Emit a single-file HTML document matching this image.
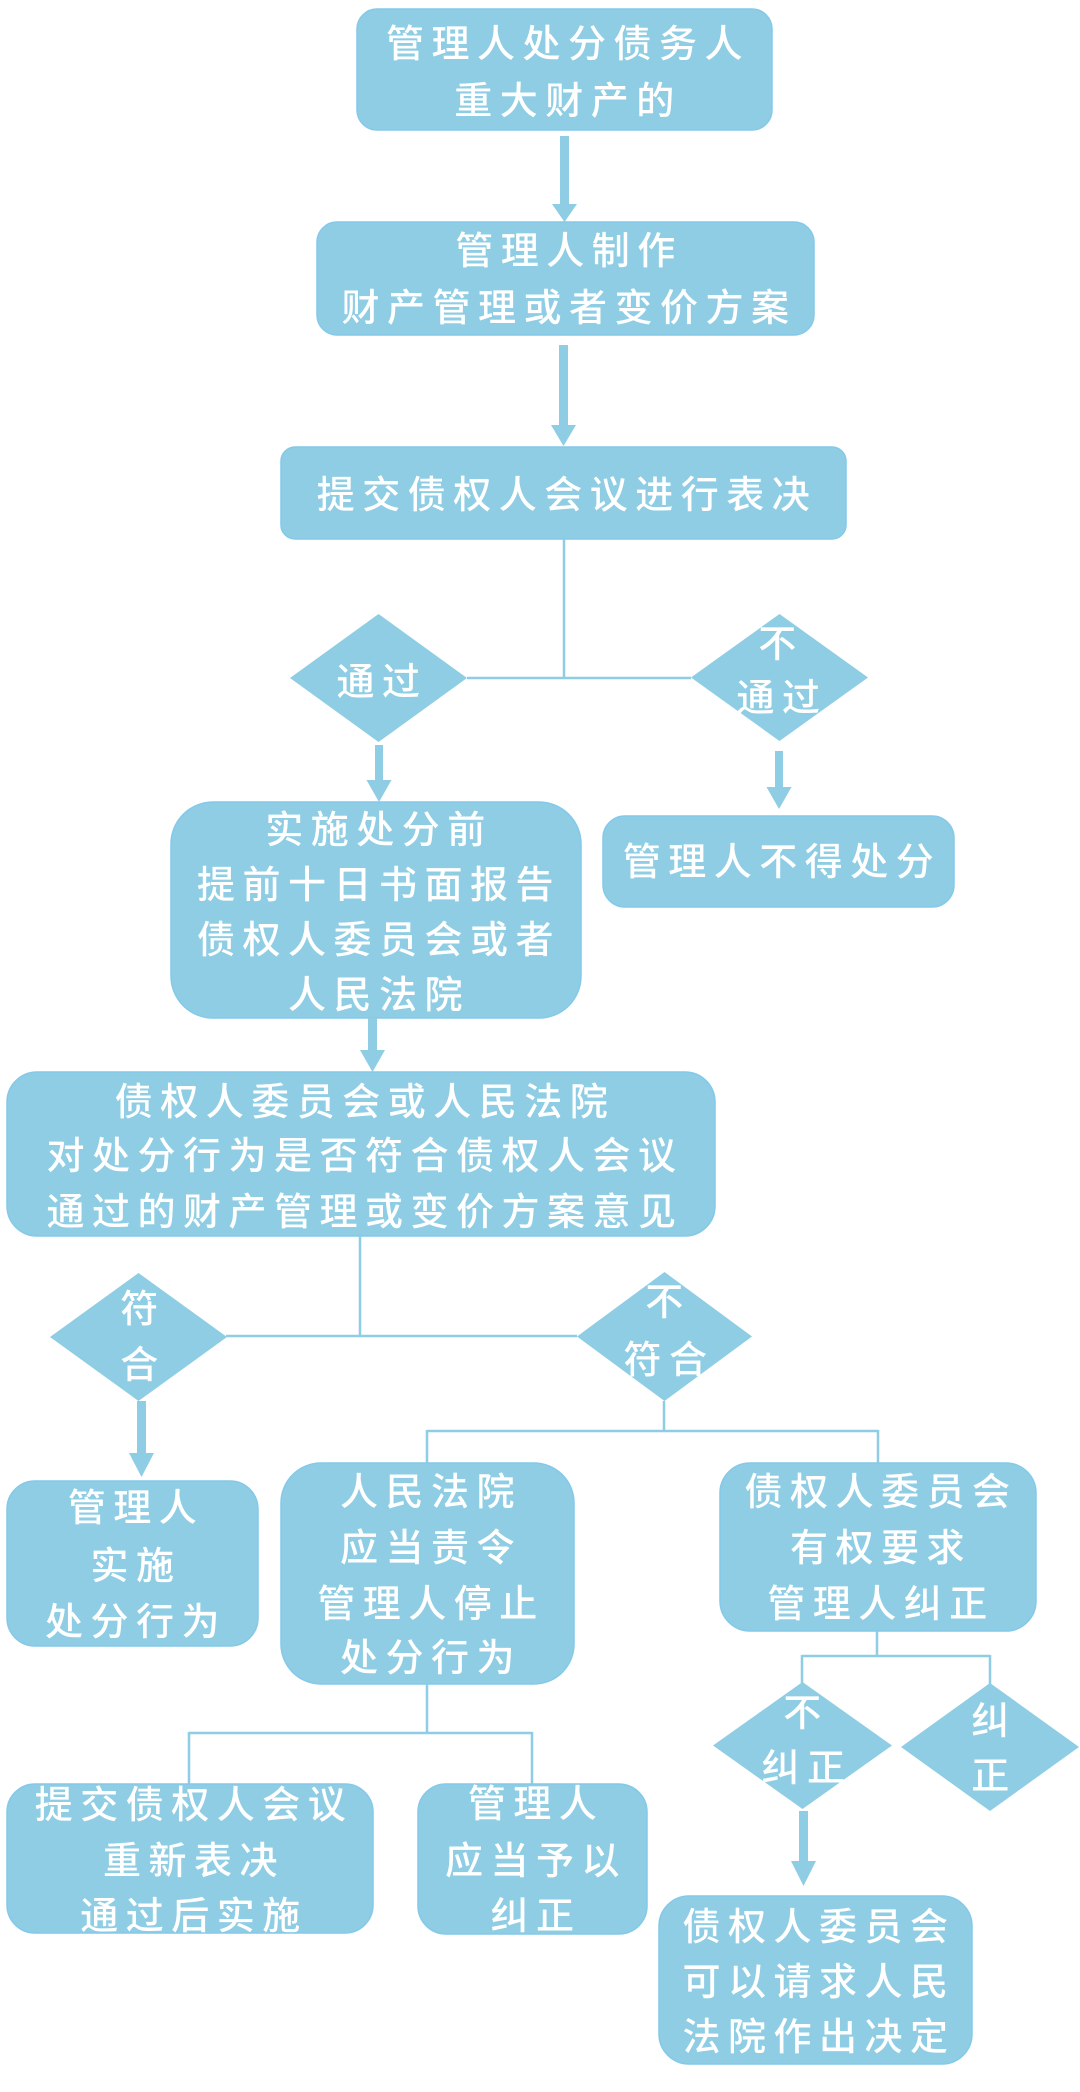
<!DOCTYPE html>
<html>
<head>
<meta charset="utf-8">
<style>
html,body{margin:0;padding:0;background:#fff;}
svg{display:block;}
.b{fill:#8ECDE3;stroke:#84C9EA;stroke-width:1.5;}
.d{fill:#8ECDE3;}
.l{stroke:#8ECDE3;stroke-width:2.5;fill:none;}
.a{fill:#8ECDE3;}
.t{font-family:"Liberation Sans","Noto Sans CJK SC",sans-serif;font-size:38px;font-weight:500;fill:#ffffff;letter-spacing:7.5px;text-anchor:middle;dominant-baseline:central;}
</style>
</head>
<body>
<svg width="1080" height="2092" viewBox="0 0 1080 2092" xmlns="http://www.w3.org/2000/svg">
  <!-- Box A -->
  <rect class="b" x="357" y="9" width="415" height="121" rx="20"/>
  <text class="t" x="568" y="45">管理人处分债务人</text>
  <text class="t" x="568" y="102">重大财产的</text>

  <!-- Arrow A->B -->
  <rect class="a" x="560" y="136" width="9" height="70"/>
  <polygon class="a" points="552,204 577,204 564.5,222"/>

  <!-- Box B -->
  <rect class="b" x="317" y="222" width="497" height="113" rx="20"/>
  <text class="t" x="569" y="252">管理人制作</text>
  <text class="t" x="569" y="309">财产管理或者变价方案</text>

  <!-- Arrow B->C -->
  <rect class="a" x="559" y="345" width="9" height="82"/>
  <polygon class="a" points="551,425 576,425 563.5,446"/>

  <!-- Box C -->
  <rect class="b" x="281" y="447" width="565" height="92" rx="14"/>
  <text class="t" x="567" y="496">提交债权人会议进行表决</text>

  <!-- Connector C -> diamonds -->
  <path class="l" d="M564 539 V678 M467 678 H691"/>

  <!-- Diamond D1 通过 -->
  <polygon class="d" points="290,678 378.5,614 467,678 378.5,742"/>
  <text class="t" x="382" y="683">通过</text>

  <!-- Diamond D2 不通过 -->
  <polygon class="d" points="691,677.5 779.5,614 868,677.5 779.5,741"/>
  <text class="t" x="781" y="645">不</text>
  <text class="t" x="782" y="699">通过</text>

  <!-- Arrow D1->E -->
  <rect class="a" x="375" y="745" width="8" height="37"/>
  <polygon class="a" points="366.5,780 391.5,780 379,802"/>

  <!-- Arrow D2->F -->
  <rect class="a" x="775" y="751" width="8" height="38"/>
  <polygon class="a" points="766.5,787 791.5,787 779,809"/>

  <!-- Box E -->
  <rect class="b" x="171" y="802" width="410" height="216" rx="42"/>
  <text class="t" x="379" y="831">实施处分前</text>
  <text class="t" x="379" y="886">提前十日书面报告</text>
  <text class="t" x="379" y="941">债权人委员会或者</text>
  <text class="t" x="379" y="996">人民法院</text>

  <!-- Box F -->
  <rect class="b" x="603" y="816" width="351" height="91" rx="22"/>
  <text class="t" x="782" y="863">管理人不得处分</text>

  <!-- Arrow E->G -->
  <rect class="a" x="368" y="1018" width="9" height="34"/>
  <polygon class="a" points="360,1050 385,1050 372.5,1072"/>

  <!-- Box G -->
  <rect class="b" x="7" y="1072" width="708" height="164" rx="30"/>
  <text class="t" x="365" y="1103">债权人委员会或人民法院</text>
  <text class="t" x="365" y="1157">对处分行为是否符合债权人会议</text>
  <text class="t" x="365" y="1213">通过的财产管理或变价方案意见</text>

  <!-- Connector G -> diamonds -->
  <path class="l" d="M360 1236 V1336 M226 1336 H577"/>

  <!-- Diamond H1 符合 -->
  <polygon class="d" points="50,1337 138.5,1273 227,1337 138.5,1401"/>
  <text class="t" x="143" y="1310">符</text>
  <text class="t" x="143" y="1366">合</text>

  <!-- Diamond H2 不符合 -->
  <polygon class="d" points="577,1336.5 664.5,1272 752,1336.5 664.5,1401"/>
  <text class="t" x="668" y="1303">不</text>
  <text class="t" x="669" y="1361">符合</text>

  <!-- Arrow H1->I -->
  <rect class="a" x="137" y="1401" width="9" height="54"/>
  <polygon class="a" points="129,1453 154,1453 141.5,1477"/>

  <!-- Connector H2 -> J, K -->
  <path class="l" d="M664 1401 V1431 M427 1431 H878 M427 1430 V1464 M878 1430 V1464"/>

  <!-- Box I -->
  <rect class="b" x="7" y="1481" width="251" height="165" rx="28"/>
  <text class="t" x="136" y="1509">管理人</text>
  <text class="t" x="136" y="1567">实施</text>
  <text class="t" x="136" y="1623">处分行为</text>

  <!-- Box J -->
  <rect class="b" x="281" y="1463" width="293" height="221" rx="40"/>
  <text class="t" x="431" y="1493">人民法院</text>
  <text class="t" x="431" y="1549">应当责令</text>
  <text class="t" x="431" y="1605">管理人停止</text>
  <text class="t" x="431" y="1659">处分行为</text>

  <!-- Box K -->
  <rect class="b" x="720" y="1463" width="316" height="168" rx="30"/>
  <text class="t" x="881" y="1493">债权人委员会</text>
  <text class="t" x="881" y="1549">有权要求</text>
  <text class="t" x="881" y="1605">管理人纠正</text>

  <!-- Connector J -> L, M -->
  <path class="l" d="M427 1684 V1733 M189 1733 H532 M189 1732 V1785 M532 1732 V1785"/>

  <!-- Box L -->
  <rect class="b" x="7" y="1784" width="366" height="149" rx="28"/>
  <text class="t" x="194" y="1806">提交债权人会议</text>
  <text class="t" x="194" y="1862">重新表决</text>
  <text class="t" x="194" y="1917">通过后实施</text>

  <!-- Box M -->
  <rect class="b" x="418" y="1784" width="229" height="150" rx="28"/>
  <text class="t" x="536" y="1805">管理人</text>
  <text class="t" x="536" y="1862">应当予以</text>
  <text class="t" x="536" y="1917">纠正</text>

  <!-- Connector K -> diamonds -->
  <path class="l" d="M877 1631 V1656 M802 1656 H990 M802 1655 V1683 M990 1655 V1684"/>

  <!-- Diamond N1 不纠正 -->
  <polygon class="d" points="713,1745.5 802.5,1682 892,1745.5 802.5,1809"/>
  <text class="t" x="806" y="1714">不</text>
  <text class="t" x="807" y="1769">纠正</text>

  <!-- Diamond N2 纠正 -->
  <polygon class="d" points="901,1747 990,1683 1079,1747 990,1811"/>
  <text class="t" x="994" y="1722">纠</text>
  <text class="t" x="994" y="1777">正</text>

  <!-- Arrow N1->O -->
  <rect class="a" x="799" y="1811" width="9" height="52"/>
  <polygon class="a" points="791,1861 816,1861 803.5,1886"/>

  <!-- Box O -->
  <rect class="b" x="659" y="1896" width="313" height="168" rx="30"/>
  <text class="t" x="819" y="1928">债权人委员会</text>
  <text class="t" x="819" y="1983">可以请求人民</text>
  <text class="t" x="819" y="2038">法院作出决定</text>
</svg>
</body>
</html>
